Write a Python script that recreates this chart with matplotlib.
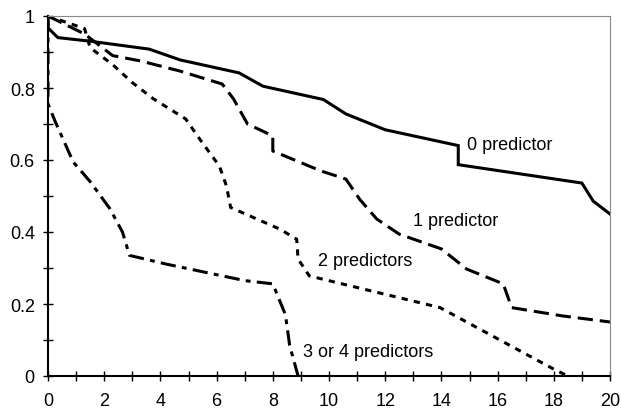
import matplotlib
matplotlib.use('Agg')
import matplotlib.pyplot as plt
from matplotlib.ticker import MultipleLocator, FuncFormatter

plt.rcParams['font.family'] = ['Liberation Sans', 'DejaVu Sans']
plt.rcParams['lines.scale_dashes'] = False

# survival curves
t0 = [0, 0, 0.35, 1.5, 3.6, 4.7, 6.8, 7.65, 9.8, 10.6, 12.0, 14.6, 14.6, 19.0, 19.4, 20]
v0 = [1, 0.967, 0.94, 0.93, 0.908, 0.878, 0.842, 0.805, 0.768, 0.728, 0.684, 0.64, 0.587, 0.536, 0.486, 0.45]

t1 = [0, 1.3, 2.3, 3.3, 4.7, 6.2, 6.6, 7.1, 8.0, 8.0, 9.7, 10.6, 11.1, 11.7, 12.5, 14.0, 14.9,
      16.2, 16.5, 18.3, 20]
v1 = [1, 0.95, 0.89, 0.875, 0.847, 0.811, 0.77, 0.7, 0.667, 0.625, 0.57, 0.547, 0.49, 0.436,
      0.394, 0.353, 0.297, 0.256, 0.19, 0.167, 0.15]

t2 = [0, 1.3, 1.5, 2.3, 3.0, 3.75, 4.9, 5.4, 6.1, 6.35, 6.5, 8.25, 8.85, 8.9, 9.3, 13.95, 18.0, 18.5]
v2 = [1, 0.965, 0.912, 0.865, 0.815, 0.77, 0.714, 0.658, 0.583, 0.528, 0.468, 0.408, 0.38, 0.325,
      0.278, 0.19, 0.019, 0]

t3 = [0, 0, 0.25, 0.9, 1.5, 2.2, 2.65, 2.9, 4.2, 7.0, 8.0, 8.45, 8.6, 8.9]
v3 = [1, 0.756, 0.708, 0.594, 0.54, 0.465, 0.4, 0.335, 0.311, 0.265, 0.256, 0.17, 0.085, 0]

labels = ['0 predictor', '1 predictor', '2 predictors', '3 or 4 predictors']
label_pos = [(14.9, 0.644), (13.0, 0.431), (9.6, 0.32), (9.07, 0.067)]

fig = plt.figure(figsize=(6.21, 4.10), dpi=100)
ax = fig.add_axes([48 / 621, 1 - 377 / 410, 562 / 621, 360 / 410])

lw = 2.2
ax.plot(t0, v0, color='black', lw=lw, solid_joinstyle='miter')
ax.plot(t1, v1, color='black', lw=lw, dashes=(11, 5))
ax.plot(t2, v2, color='black', lw=lw, dashes=(4.5, 4.5))
ax.plot(t3, v3, color='black', lw=lw, dashes=(11, 4.5, 3.5, 4.5))

for lab, (x, y) in zip(labels, label_pos):
    ax.text(x, y, lab, fontsize=13, ha='left', va='center')

ax.set_xlim(0, 20)
ax.set_ylim(0, 1)
ax.xaxis.set_major_locator(MultipleLocator(2))
ax.xaxis.set_minor_locator(MultipleLocator(1))
ax.yaxis.set_major_locator(MultipleLocator(0.2))
ax.yaxis.set_minor_locator(MultipleLocator(0.1))
ax.yaxis.set_major_formatter(FuncFormatter(lambda v, p: '%g' % round(v, 1)))

ax.tick_params(which='both', direction='inout', length=7, width=1, labelsize=13, color='black')
ax.tick_params(axis='x', pad=8)
ax.tick_params(axis='y', pad=6)

ax.spines['left'].set_linewidth(1.5)
ax.spines['bottom'].set_linewidth(1.5)
for s in ['top', 'right']:
    ax.spines[s].set_linewidth(0.8)
    ax.spines[s].set_color('#888888')

fig.savefig('out.png', dpi=100)
